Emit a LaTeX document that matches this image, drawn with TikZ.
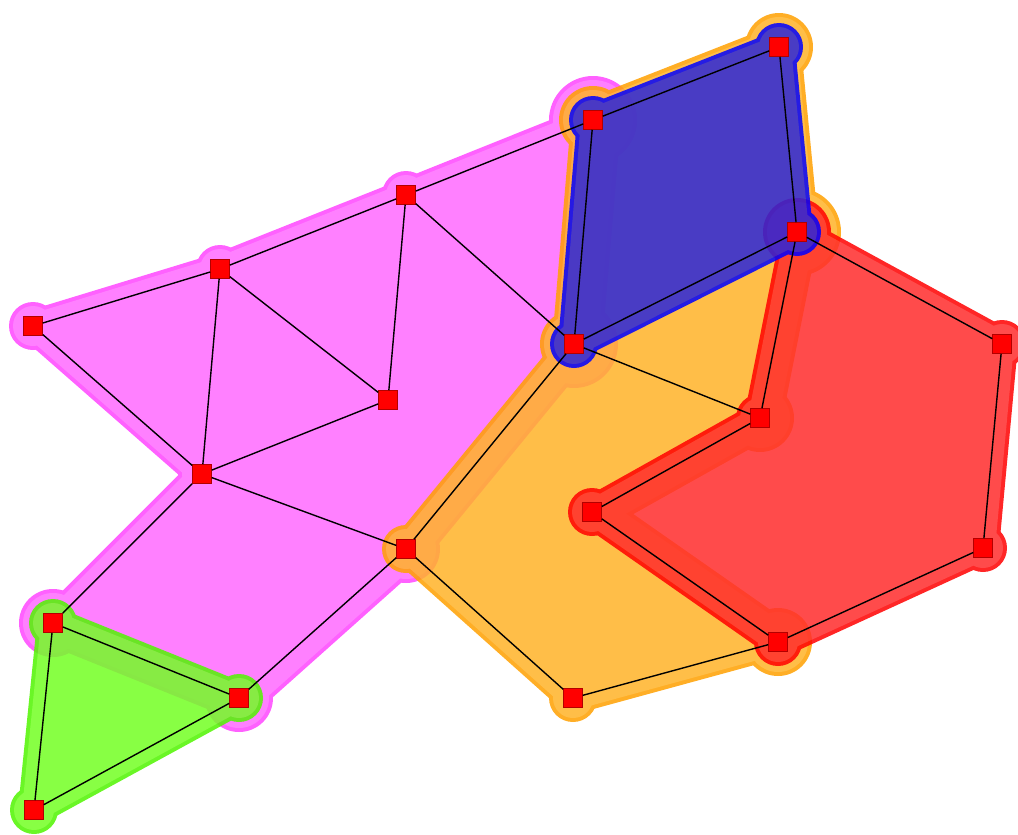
\documentclass[tikz,border=0pt]{standalone}
\usepackage{tikz}
\definecolor{pinkring}{HTML}{FF45FF}
\definecolor{pinkfill}{HTML}{FF6AFF}
\definecolor{greenring}{HTML}{50F500}
\definecolor{greenfill}{HTML}{73FF23}
\definecolor{orangering}{HTML}{FFA000}
\definecolor{orangefill}{HTML}{FFB328}
\definecolor{redring}{HTML}{FF0000}
\definecolor{redfill}{HTML}{FF2C2C}
\definecolor{bluering}{HTML}{0000FF}
\definecolor{bluefill}{HTML}{2A25DA}
\newcommand{\hull}[5]{%
  \begin{scope}[transparency group,opacity=.85]
    \foreach \col/\bw in {#1/4,#2/0}{%
      \fill[\col] #3 -- cycle;
      \foreach \pa/\pb/\lv in {#5}{\pgfmathsetmacro\ew{2*(12+6*\lv+\bw)}\draw[\col,line width=\ew pt,line cap=round] (\pa)--(\pb);}
      \foreach \pa/\lv in {#4}{\pgfmathsetmacro\vr{20+10*\lv+\bw}\fill[\col] (\pa) circle[radius=\vr pt];}
    }
  \end{scope}}

\begin{document}
\begin{tikzpicture}[x=1pt,y=-1pt,vtx/.style={rectangle,draw=red!70!black,fill=red,line width=.6pt,minimum size=19pt,inner sep=0pt},edge/.style={line width=1.4pt}]
\useasboundingbox (0,0) rectangle (1018,835);
\foreach \n/\x/\y in {a/33/326,b/220/269,c/406/195,d/593/120,e/779/47,f/797/232,g/574/344,h/388/400,i/202/474,j/406/549,k/53/623,l/239/698,m/34/810,n/760/418,o/1002/344,p/592/512,q/983/548,r/778/642,s/573/698}{\coordinate (\n) at (\x,\y);}
\hull{pinkring}{pinkfill}{(a)--(b)--(c)--(d)--(g)--(j)--(l)--(k)--(i)}{a/0,b/0,c/0,d/2,g/2,j/1,l/1,k/1,i/0}{a/b/0,b/c/0,c/d/0,d/g/2,g/j/1,j/l/1,l/k/1,k/i/0,i/a/0}
\hull{greenring}{greenfill}{(k)--(l)--(m)}{k/0,l/0,m/0}{k/l/0,l/m/0,m/k/0}
\hull{orangering}{orangefill}{(d)--(e)--(f)--(n)--(p)--(r)--(s)--(j)--(g)}{d/1,e/1,f/2,n/1,p/1,r/1,s/0,j/0,g/1}{d/e/1,e/f/1,f/n/1,n/p/1,p/r/1,r/s/0,s/j/0,j/g/0,g/d/1}
\hull{redring}{redfill}{(f)--(o)--(q)--(r)--(p)--(n)}{f/1,o/0,q/0,r/0,p/0,n/0}{f/o/0,o/q/0,q/r/0,r/p/0,p/n/0,n/f/0}
\hull{bluering}{bluefill}{(d)--(e)--(f)--(g)}{d/0,e/0,f/0,g/0}{d/e/0,e/f/0,f/g/0,g/d/0}
\foreach \n in {a,...,s}{\node[vtx] (v\n) at (\n) {};}
\foreach \ea/\eb in {a/b,b/c,c/d,d/e,e/f,f/g,g/d,a/i,b/i,b/h,c/h,c/g,h/i,i/j,i/k,j/g,j/l,k/l,k/m,l/m,g/n,f/n,f/o,o/q,q/r,r/p,p/n,j/s,s/r}{\draw[edge] (v\ea)--(v\eb);}
\end{tikzpicture}
\end{document}
